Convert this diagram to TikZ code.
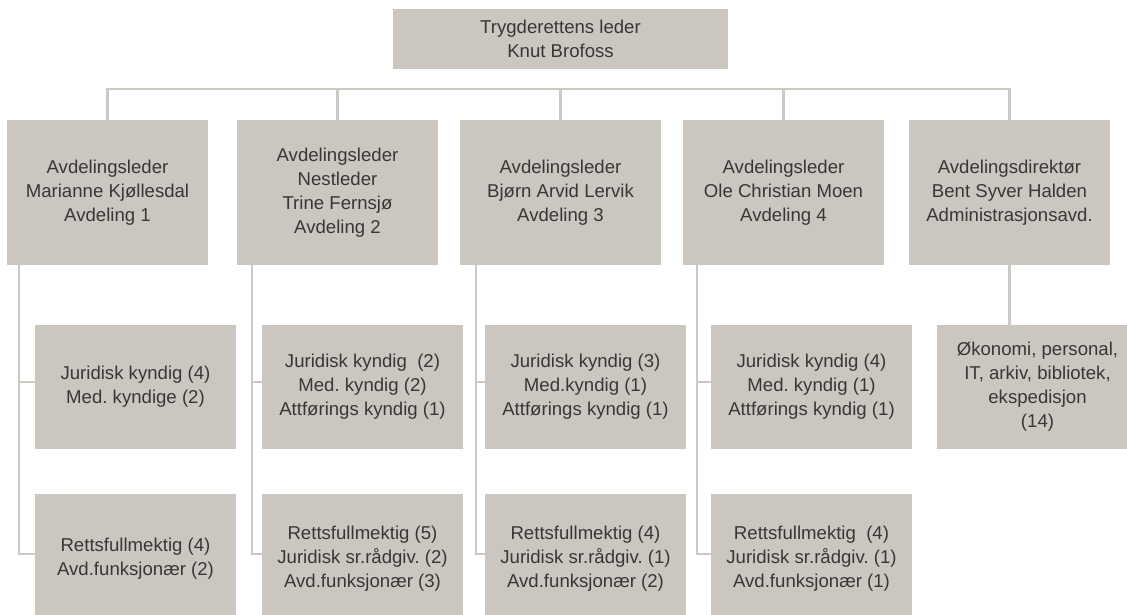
\documentclass[tikz,border=0pt]{standalone}
\usepackage{fontspec}
\setmainfont{Liberation Sans}
\usepackage{tikz}
\frenchspacing

\definecolor{boksgraa}{RGB}{203,199,192}
\definecolor{linjegraa}{RGB}{204,201,195}
\definecolor{tekstgraa}{RGB}{55,55,55}

\begin{document}
\begin{tikzpicture}[x=1pt,y=-1pt,
        boks/.style={rectangle,fill=boksgraa,text=tekstgraa,align=center,inner sep=0pt,minimum width=201pt,font=\fontsize{18.6}{24}\selectfont},
        linje/.style={draw=linjegraa,line width=2.4pt}]
        \useasboundingbox (0,0) rectangle (1127,614);

        \node[boks,minimum width=335pt,minimum height=60pt] (0) at (560.5,39) {Trygderettens leder\\Knut Brofoss};

        \node[boks,minimum height=145pt] (1) at (107.5,192.5) {Avdelingsleder\\Marianne Kjøllesdal\\Avdeling 1};
        \node[boks,minimum height=145pt] (2) at (337.5,192.5) {Avdelingsleder\\Nestleder\\Trine Fernsjø\\Avdeling 2};
        \node[boks,minimum height=145pt] (3) at (560.5,192.5) {Avdelingsleder\\Bjørn Arvid Lervik\\Avdeling 3};
        \node[boks,minimum height=145pt] (4) at (783.5,192.5) {Avdelingsleder\\Ole Christian Moen\\Avdeling 4};
        \node[boks,minimum height=145pt] (5) at (1009.5,192.5) {Avdelingsdirektør\\Bent Syver Halden\\Administrasjonsavd.};

        \node[boks,minimum height=124pt] (11) at (135.5,387) {Juridisk kyndig (4)\\Med. kyndige (2)};
        \node[boks,minimum height=124pt] (21) at (362.5,387) {Juridisk kyndig~ (2)\\Med. kyndig (2)\\Attførings kyndig (1)};
        \node[boks,minimum height=124pt] (31) at (585.5,387) {Juridisk kyndig (3)\\Med.kyndig (1)\\Attførings kyndig (1)};
        \node[boks,minimum height=124pt] (41) at (811.5,387) {Juridisk kyndig (4)\\Med. kyndig (1)\\Attførings kyndig (1)};
        \node[boks,minimum height=124pt] (51) at (1037.5,387) {Økonomi, personal,\\IT, arkiv, bibliotek,\\ekspedisjon\\(14)};

        \node[boks,minimum height=130pt] (12) at (135.5,559) {Rettsfullmektig (4)\\Avd.funksjonær (2)};
        \node[boks,minimum height=130pt] (22) at (362.5,559) {Rettsfullmektig (5)\\Juridisk sr.rådgiv. (2)\\Avd.funksjonær (3)};
        \node[boks,minimum height=130pt] (32) at (585.5,559) {Rettsfullmektig (4)\\Juridisk sr.rådgiv. (1)\\Avd.funksjonær (2)};
        \node[boks,minimum height=130pt] (42) at (811.5,559) {Rettsfullmektig~ (4)\\Juridisk sr.rådgiv. (1)\\Avd.funksjonær (1)};

        \coordinate (bar) at (0,89);
        \path[linje] (1.north) |- (bar -| 5.north) -- (5.north);
        \path[linje] (2.north) -- (2.north |- bar);
        \path[linje] (3.north) -- (3.north |- bar);
        \path[linje] (4.north) -- (4.north |- bar);

        \path[linje] ([xshift=12pt]1.south west) |- ([yshift=5pt]11.west) ([xshift=12pt]1.south west) |- ([yshift=5pt]12.west);
        \path[linje] ([xshift=15pt]2.south west) |- ([yshift=5pt]21.west) ([xshift=15pt]2.south west) |- ([yshift=5pt]22.west);
        \path[linje] ([xshift=16pt]3.south west) |- ([yshift=5pt]31.west) ([xshift=16pt]3.south west) |- ([yshift=5pt]32.west);
        \path[linje] ([xshift=14pt]4.south west) |- ([yshift=5pt]41.west) ([xshift=14pt]4.south west) |- ([yshift=5pt]42.west);
        \path[linje] (5.south) -- (5.south |- 51.north);

    \end{tikzpicture}
\end{document}
